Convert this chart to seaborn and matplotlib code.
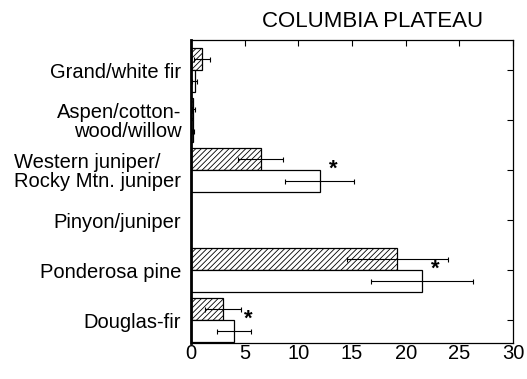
import matplotlib
matplotlib.use('Agg')
import matplotlib.pyplot as plt
import seaborn as sns
import pandas as pd
import numpy as np

# values
types = ['Grand/white fir', 'Aspen/cotton-\nwood/willow',
         'Western juniper/\nRocky Mtn. juniper', 'Pinyon/juniper',
         'Ponderosa pine', 'Douglas-fir']
groups = ['hatched', 'open']
hatched_vals = [1.05, 0.2, 6.5, 0.0, 19.2, 3.0]
hatched_err = [0.75, 0.15, 2.1, 0.0, 4.7, 1.65]
open_vals = [0.35, 0.2, 12.0, 0.0, 21.5, 4.0]
open_err = [0.25, 0.12, 3.2, 0.0, 4.75, 1.6]
starred = [False, False, True, False, True, True]
xticks = [0, 5, 10, 15, 20, 25, 30]

df = pd.DataFrame({
    'type': types * 2,
    'group': [groups[0]] * len(types) + [groups[1]] * len(types),
    'value': hatched_vals + open_vals,
    'err': hatched_err + open_err,
})

sns.set_style('white')
plt.rcParams['font.family'] = ['Liberation Sans', 'DejaVu Sans']
plt.rcParams['hatch.linewidth'] = 0.6
plt.rcParams['text.color'] = 'black'
plt.rcParams['xtick.color'] = 'black'
plt.rcParams['ytick.color'] = 'black'
plt.rcParams['axes.labelcolor'] = 'black'

fig = plt.figure(figsize=(5.27, 3.79), dpi=100)
ax = fig.add_axes([0.3624, 0.095, 0.611, 0.7995])

sns.barplot(data=df, x='value', y='type', hue='group', order=types,
            hue_order=groups, orient='h', width=0.88, errorbar=None,
            palette=['white', 'white'], edgecolor='black', linewidth=0.9,
            legend=False, ax=ax)

# hatch the first group and add the error bars at each bar's center
n = len(types)
for i, p in enumerate(ax.patches[:2 * n]):
    if i < n:
        p.set_hatch('//////')
    yc = p.get_y() + p.get_height() / 2
    val = df['value'].iloc[i]
    err = df['err'].iloc[i]
    if val > 0:
        ax.errorbar(val, yc, xerr=err, fmt='none', ecolor='black',
                    elinewidth=0.8, capsize=1.8, capthick=0.8)

for i, s in enumerate(starred):
    if s:
        ax.text(open_vals[i] + 1.3, i - 0.02, '*', fontsize=16,
                fontweight='bold', ha='center', va='center')

ax.set_xlim(0, 30)
ax.set_ylim(5.45, -0.6)
ax.set_xticks(xticks)
ax.set_xticklabels([str(t) for t in xticks], fontsize=14.5)
ax.set_xlabel('')
ax.set_ylabel('')
ax.set_yticks(range(n))
ax.set_yticklabels(types, fontsize=14.5, linespacing=1.0)
for lab in ax.get_yticklabels():
    if lab.get_text().startswith('Western'):
        lab.set_multialignment('left')

ax.tick_params(axis='x', which='both', bottom=False, top=True,
               direction='in', length=4, width=0.8, pad=1)
ax.tick_params(axis='y', which='both', left=False, right=True,
               direction='in', length=4, width=0.8, pad=7)

for side in ['top', 'right', 'bottom']:
    ax.spines[side].set_linewidth(0.9)
    ax.spines[side].set_color('black')
ax.spines['left'].set_linewidth(2)
ax.spines['left'].set_color('black')

ax.set_title('COLUMBIA PLATEAU', fontsize=16, pad=9, x=0.565)

fig.savefig('out.png', dpi=100)
